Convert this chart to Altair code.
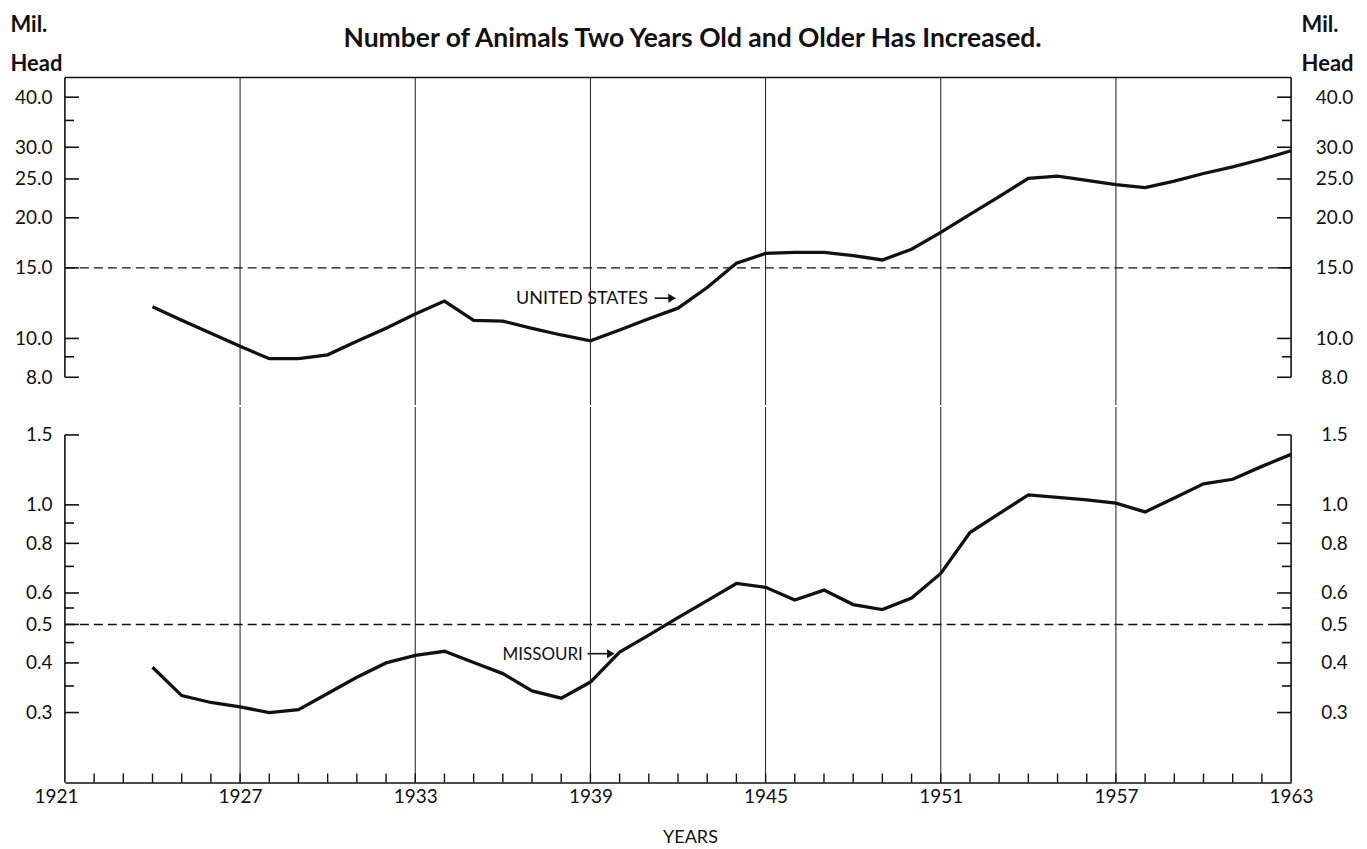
import altair as alt
import pandas as pd

# ---------------- data ----------------
years = list(range(1924, 1964))
us_head = [12.0, 11.1, 10.3, 9.56, 8.9, 8.9, 9.1, 9.84, 10.6, 11.5,
           12.4, 11.1, 11.05, 10.6, 10.2, 9.86, 10.5, 11.2, 11.9, 13.4,
           15.4, 16.3, 16.4, 16.4, 16.1, 15.7, 16.7, 18.4, 20.4, 22.6,
           25.1, 25.4, 24.8, 24.2, 23.8, 24.7, 25.8, 26.8, 28.0, 29.4]
mo_head = [0.39, 0.331, 0.318, 0.31, 0.30, 0.305, 0.335, 0.368, 0.40, 0.418,
           0.428, 0.401, 0.376, 0.34, 0.326, 0.358, 0.426, 0.47, 0.52, 0.574,
           0.634, 0.62, 0.576, 0.61, 0.561, 0.545, 0.583, 0.672, 0.852, 0.95,
           1.06, 1.045, 1.03, 1.01, 0.96, 1.04, 1.13, 1.16, 1.25, 1.34]

grid_years = [1927, 1933, 1939, 1945, 1951, 1957]
x_label_years = [1921, 1927, 1933, 1939, 1945, 1951, 1957, 1963]
x_minor_years = list(range(1922, 1963))

us_major = [8, 10, 15, 20, 25, 30, 40]
us_minor = [9, 35]
mo_major = [0.3, 0.4, 0.5, 0.6, 0.8, 1.0, 1.5]
mo_minor = [0.35, 0.45, 0.55, 0.7, 0.9]

title_text = "Number of Animals Two Years Old and Older Has Increased."
unit_lines = ["Mil.", "Head"]
us_label = "UNITED STATES"
mo_label = "MISSOURI"
x_title = "YEARS"

# ---------------- styling ----------------
FONT = "Lato"
INK = "#111111"
W = 1228
X0, X1 = 1921, 1963
xs = alt.Scale(domain=[X0, X1], nice=False, zero=False)


def tick_frame(major, minor):
    rows = []
    for v in major:
        rows.append({"x": X0, "x2": X0 + 0.48, "v": v})
        rows.append({"x": X1 - 0.48, "x2": X1, "v": v})
    for v in minor:
        rows.append({"x": X0, "x2": X0 + 0.31, "v": v})
        rows.append({"x": X1 - 0.31, "x2": X1, "v": v})
    return pd.DataFrame(rows)


def panel(values, domain, height, major, minor, ref, lo_val, hi_val,
          label, label_pos, arrow_pos, label_size, top):
    ys = alt.Scale(type="log", domain=domain, nice=False)

    left_axis = dict(orient="left", values=major, format=".1f", ticks=False, tickSize=0,
                     domain=False, grid=False, labelFont=FONT, labelFontSize=19,
                     labelColor=INK, labelPadding=13, labelOverlap=False)
    if top:
        left_axis.update(title=unit_lines, titleAngle=0, titleAlign="left",
                         titleBaseline="alphabetic", titleX=-55, titleY=-46,
                         titleFont=FONT, titleFontSize=22, titleFontWeight="bold",
                         titleColor=INK, titleLineHeight=39)
    else:
        left_axis.update(title=None)
    YAX = alt.Axis(**left_axis)

    if top:
        XAX = None
    else:
        XAX = alt.Axis(
            values=x_label_years, format="d", ticks=False, tickSize=0,
            domain=True, domainColor=INK, domainWidth=1.6, grid=False,
            labelFont=FONT, labelFontSize=19, labelColor=INK, labelPadding=5,
            labelFlush=False, labelOverlap=False,
            labelOffset={"condition": {"test": "datum.value == 1921", "value": -9}, "value": 0},
            title=x_title, titleFont=FONT, titleFontSize=18, titleFontWeight="normal",
            titleColor=INK, titleX=626, titleY=60, titleBaseline="alphabetic",
            titleAnchor="start", titleAlign="center")

    def X(field="x"):
        return alt.X(f"{field}:Q", scale=xs, axis=XAX)

    def Y(field="v"):
        return alt.Y(f"{field}:Q", scale=ys, axis=YAX)

    df = pd.DataFrame({"x": years, "v": values})

    layers = []
    # vertical grid lines
    layers.append(
        alt.Chart(pd.DataFrame({"x": grid_years}))
        .mark_rule(color="#1a1a1a", strokeWidth=1)
        .encode(x=X())
    )
    # side frame lines
    layers.append(
        alt.Chart(pd.DataFrame({"x": [X0, X1], "v": [lo_val, lo_val], "hi": [hi_val, hi_val]}))
        .mark_rule(color=INK, strokeWidth=1.6)
        .encode(x=X(), y=Y(), y2="hi:Q")
    )
    # inward ticks on both sides
    layers.append(
        alt.Chart(tick_frame(major, minor))
        .mark_rule(color=INK, strokeWidth=1.6)
        .encode(x=X(), x2="x2:Q", y=Y())
    )
    # dashed reference line
    layers.append(
        alt.Chart(pd.DataFrame({"v": [ref]}))
        .mark_rule(color=INK, strokeWidth=1.4, strokeDash=[9, 5])
        .encode(y=Y())
    )
    if top:
        # top border of the frame
        layers.append(
            alt.Chart(pd.DataFrame({"v": [domain[1]]}))
            .mark_rule(color=INK, strokeWidth=1.6)
            .encode(y=Y())
        )
        # chart title
        layers.append(
            alt.Chart(pd.DataFrame({"x": [1942.5], "v": [53.5], "t": [title_text]}))
            .mark_text(font=FONT, fontSize=26.5, fontWeight="bold", color=INK,
                       align="center", baseline="alphabetic")
            .encode(x=X(), y=Y(), text="t:N")
        )
    else:
        # small inward year ticks
        layers.append(
            alt.Chart(pd.DataFrame({"x": x_minor_years, "v": [domain[0]] * len(x_minor_years),
                                    "hi": [domain[0] * 1.0534] * len(x_minor_years)}))
            .mark_rule(color=INK, strokeWidth=1.4)
            .encode(x=X(), y=Y(), y2="hi:Q")
        )

    # series label and arrow
    lx, lv = label_pos
    ax0, ax1, av = arrow_pos
    layers.append(
        alt.Chart(pd.DataFrame({"x": [lx], "v": [lv], "t": [label]}))
        .mark_text(font=FONT, fontSize=label_size, color=INK, align="right", baseline="alphabetic")
        .encode(x=X(), y=Y(), text="t:N")
    )
    layers.append(
        alt.Chart(pd.DataFrame({"x": [ax0], "x2": [ax1 - 0.15], "v": [av]}))
        .mark_rule(color=INK, strokeWidth=1.6)
        .encode(x=X(), x2="x2:Q", y=Y())
    )
    layers.append(
        alt.Chart(pd.DataFrame({"x": [ax1 - 0.2], "v": [av]}))
        .mark_point(shape="triangle-right", filled=True, color=INK, size=80, opacity=1)
        .encode(x=X(), y=Y())
    )

    # the data line
    layers.append(
        alt.Chart(df)
        .mark_line(color=INK, strokeWidth=3.3)
        .encode(x=X(), y=Y())
    )

    inner = alt.layer(*layers)

    right_axis = dict(orient="right", values=major, format=".1f", ticks=False, tickSize=0,
                      domain=False, grid=False, labelFont=FONT, labelFontSize=19,
                      labelColor=INK, labelPadding=43, labelAlign="center", labelOverlap=False)
    if top:
        right_axis.update(title=unit_lines, titleAngle=0, titleAlign="left",
                          titleBaseline="alphabetic", titleX=10, titleY=-46,
                          titleFont=FONT, titleFontSize=22, titleFontWeight="bold",
                          titleColor=INK, titleLineHeight=39)
    else:
        right_axis.update(title=None)

    right = (
        alt.Chart(pd.DataFrame({"v": [ref]}))
        .mark_rule(opacity=0)
        .encode(y=alt.Y("v:Q", scale=alt.Scale(type="log", domain=domain, nice=False),
                        axis=alt.Axis(**right_axis)))
    )

    return alt.layer(inner, right).resolve_scale(y="independent").properties(width=W, height=height)


upper = panel(us_head, [6.82, 44.79], 328, us_major, us_minor, 15, 8, 44.79,
              us_label, (1940.97, 12.18), (1941.2, 1942.0, 12.6), 18, True)
lower = panel(mo_head, [0.2, 1.7635], 376, mo_major, mo_minor, 0.5, 0.2, 1.5,
              mo_label, (1938.74, 0.408), (1938.9, 1939.9, 0.422), 17, False)

chart = (
    alt.vconcat(upper, lower, spacing=0)
    .properties(background="white",
                padding={"left": 2, "top": 5, "right": 5, "bottom": 0})
    .configure_view(stroke=None, strokeWidth=0)
)

chart.save("out.html", embed_options={"renderer": "svg", "actions": False})
